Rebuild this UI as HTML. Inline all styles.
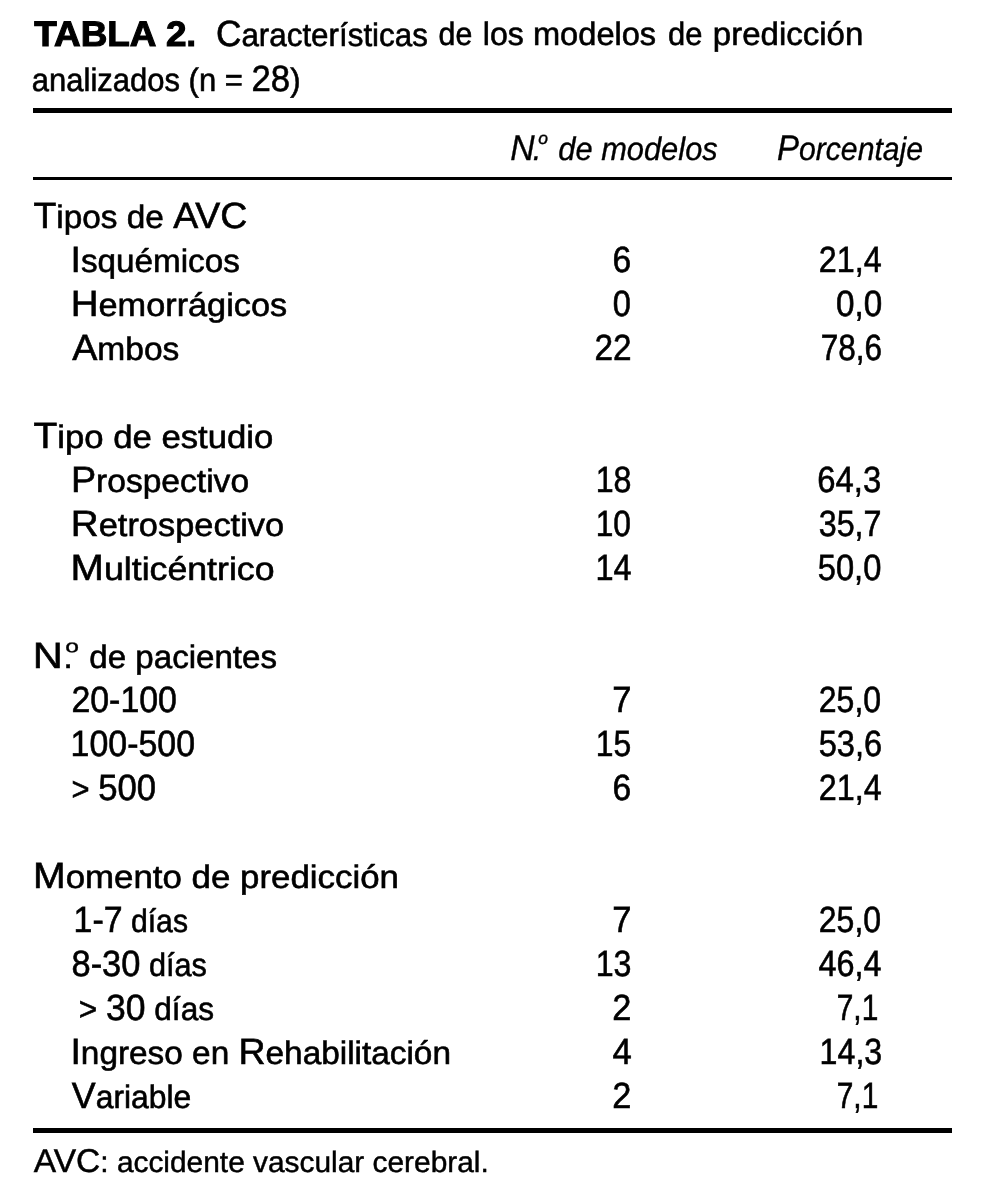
<!DOCTYPE html>
<html lang="es">
<head>
<meta charset="utf-8">
<title>Tabla 2</title>
<style>
html,body{margin:0;padding:0;background:#fff;}
body{width:984px;height:1197px;position:relative;overflow:hidden;
 font-family:"Liberation Sans",sans-serif;color:#000;text-rendering:geometricPrecision;}
.t{position:absolute;left:0;white-space:pre;line-height:44px;height:44px;transform-origin:0 0;margin:0;
 font-size:32.5px;-webkit-text-stroke:0.6px #000;}
.t .c{font-size:36.5px;}
.t .n{display:inline-block;transform:scaleX(1.12);transform-origin:0 100%;margin-right:0.07em;}
.t .p{margin-left:0.04em;}
.t .o{display:inline-block;font-size:0.95em;margin-left:-0.2em;margin-right:0.07em;position:relative;top:-0.2em;transform:scale(1.1,0.86);-webkit-text-stroke-width:0.3px;}
.i .n{transform:none;margin-right:0;}
.i .p{margin-left:-0.06em;}
.i .o{margin-left:-0.17em;margin-right:0.09em;transform:scale(0.85,0.8);}
.f{font-size:29.25px;-webkit-text-stroke-width:0.45px;}
.f .c{font-size:32.85px;}
.b{font-weight:bold;-webkit-text-stroke:1.1px #000;}
.b .c{font-size:35.4px;}
.i .c{font-size:35.6px;}
.i{font-style:italic;-webkit-text-stroke-width:0.35px;}
.ln{position:absolute;left:0;top:0;width:0;height:0;font-size:1px;line-height:0;}
.rule{position:absolute;background:#000;}
</style>
</head>
<body>
<div class="rule" style="left:33px;top:108px;width:919px;height:5px"></div>
<div class="rule" style="left:33px;top:177px;width:919px;height:3px"></div>
<div class="rule" style="left:33px;top:1128px;width:919px;height:5px"></div>
<div class="t b" style="top:12px;transform:translate(34.24px,0) scaleX(1.0421)"><span class="c">TABLA</span> <span class="c">2</span>.</div>
<div class="ln"><span class="t" style="top:12px;transform:translate(215.95px,0) scaleX(0.9649)"><span class="c">C</span>aracterísticas</span> <span class="t" style="top:12px;transform:translate(438.61px,0) scaleX(0.9310)">de</span> <span class="t" style="top:12px;transform:translate(482.78px,0) scaleX(0.9874)">los</span> <span class="t" style="top:12px;transform:translate(532.97px,0) scaleX(1.0029)">modelos</span> <span class="t" style="top:12px;transform:translate(668.00px,0) scaleX(0.9504)">de</span> <span class="t" style="top:12px;transform:translate(712.80px,0) scaleX(1.0158)">predicción</span></div>
<div class="t" style="top:57px;transform:translate(31.82px,0) scaleX(0.9536)">analizados (n = <span class="c">28</span>)</div>
<div class="t i" style="top:126px;transform:translate(510.21px,0) scaleX(0.9489)"><span class="c n">N</span><span class="p">.</span><span class="o">º</span> de modelos</div>
<div class="t i" style="top:126px;transform:translate(776.89px,0) scaleX(0.9286)"><span class="c">P</span>orcentaje</div>
<div class="t" style="top:194px;transform:translate(33.48px,0) scaleX(1.0259)"><span class="c">T</span>ipos de <span class="c">AVC</span></div>
<div class="t" style="top:238px;transform:translate(70.48px,0) scaleX(1.0236)"><span class="c">I</span>squémicos</div>
<div class="t" style="top:282px;transform:translate(70.71px,0) scaleX(1.0550)"><span class="c">H</span>emorrágicos</div>
<div class="t" style="top:326px;transform:translate(72.16px,0) scaleX(1.0318)"><span class="c">A</span>mbos</div>
<div class="t" style="top:238px;transform:translate(612.60px,0) scaleX(0.9224)"><span class="c">6</span></div>
<div class="t" style="top:282px;transform:translate(612.78px,0) scaleX(0.8923)"><span class="c">0</span></div>
<div class="t" style="top:326px;transform:translate(594.45px,0) scaleX(0.9140)"><span class="c">22</span></div>
<div class="t" style="top:238px;transform:translate(818.71px,0) scaleX(0.8861)"><span class="c">21,4</span></div>
<div class="t" style="top:282px;transform:translate(836.06px,0) scaleX(0.9100)"><span class="c">0,0</span></div>
<div class="t" style="top:326px;transform:translate(820.67px,0) scaleX(0.8646)"><span class="c">78,6</span></div>
<div class="t" style="top:414px;transform:translate(33.40px,0) scaleX(1.0681)"><span class="c">T</span>ipo de estudio</div>
<div class="t" style="top:458px;transform:translate(70.89px,0) scaleX(1.0331)"><span class="c">P</span>rospectivo</div>
<div class="t" style="top:502px;transform:translate(70.87px,0) scaleX(1.0578)"><span class="c">R</span>etrospectivo</div>
<div class="t" style="top:546px;transform:translate(70.58px,0) scaleX(1.0979)"><span class="c">M</span>ulticéntrico</div>
<div class="t" style="top:458px;transform:translate(595.67px,0) scaleX(0.8814)"><span class="c">18</span></div>
<div class="t" style="top:502px;transform:translate(595.64px,0) scaleX(0.8693)"><span class="c">10</span></div>
<div class="t" style="top:546px;transform:translate(595.54px,0) scaleX(0.8903)"><span class="c">14</span></div>
<div class="t" style="top:458px;transform:translate(817.28px,0) scaleX(0.8990)"><span class="c">64,3</span></div>
<div class="t" style="top:502px;transform:translate(818.71px,0) scaleX(0.8840)"><span class="c">35,7</span></div>
<div class="t" style="top:546px;transform:translate(817.74px,0) scaleX(0.8947)"><span class="c">50,0</span></div>
<div class="t" style="top:634px;transform:translate(32.78px,0) scaleX(1.0184)"><span class="c n">N</span><span class="p">.</span><span class="o">º</span> de pacientes</div>
<div class="t" style="top:678px;transform:translate(71.42px,0) scaleX(0.9286)"><span class="c">20-100</span></div>
<div class="t" style="top:722px;transform:translate(70.60px,0) scaleX(0.9285)"><span class="c">100-500</span></div>
<div class="t" style="top:766px;transform:translate(71.55px,0) scaleX(0.9504)">&gt; <span class="c">500</span></div>
<div class="t" style="top:678px;transform:translate(612.33px,0) scaleX(0.9466)"><span class="c">7</span></div>
<div class="t" style="top:722px;transform:translate(595.72px,0) scaleX(0.8728)"><span class="c">15</span></div>
<div class="t" style="top:766px;transform:translate(612.60px,0) scaleX(0.9224)"><span class="c">6</span></div>
<div class="t" style="top:678px;transform:translate(818.78px,0) scaleX(0.8768)"><span class="c">25,0</span></div>
<div class="t" style="top:722px;transform:translate(818.67px,0) scaleX(0.8934)"><span class="c">53,6</span></div>
<div class="t" style="top:766px;transform:translate(818.71px,0) scaleX(0.8861)"><span class="c">21,4</span></div>
<div class="t" style="top:854px;transform:translate(33.04px,0) scaleX(1.0725)"><span class="c">M</span>omento de predicción</div>
<div class="t" style="top:898px;transform:translate(73.62px,0) scaleX(0.9280)"><span class="c">1-7</span> días</div>
<div class="t" style="top:942px;transform:translate(71.48px,0) scaleX(0.9432)"><span class="c">8-30</span> días</div>
<div class="t" style="top:986px;transform:translate(78.77px,0) scaleX(0.9724)">&gt; <span class="c">30</span> días</div>
<div class="t" style="top:1030px;transform:translate(70.42px,0) scaleX(1.0263)"><span class="c">I</span>ngreso en <span class="c">R</span>ehabilitación</div>
<div class="t" style="top:1074px;transform:translate(71.83px,0) scaleX(0.9802)"><span class="c">V</span>ariable</div>
<div class="t" style="top:898px;transform:translate(612.33px,0) scaleX(0.9466)"><span class="c">7</span></div>
<div class="t" style="top:942px;transform:translate(595.66px,0) scaleX(0.8819)"><span class="c">13</span></div>
<div class="t" style="top:986px;transform:translate(612.37px,0) scaleX(0.9417)"><span class="c">2</span></div>
<div class="t" style="top:1030px;transform:translate(612.51px,0) scaleX(0.9503)"><span class="c">4</span></div>
<div class="t" style="top:1074px;transform:translate(612.37px,0) scaleX(0.9417)"><span class="c">2</span></div>
<div class="t" style="top:898px;transform:translate(818.78px,0) scaleX(0.8768)"><span class="c">25,0</span></div>
<div class="t" style="top:942px;transform:translate(818.52px,0) scaleX(0.8877)"><span class="c">46,4</span></div>
<div class="t" style="top:986px;transform:translate(836.76px,0) scaleX(0.8179)"><span class="c">7,1</span></div>
<div class="t" style="top:1030px;transform:translate(819.62px,0) scaleX(0.8809)"><span class="c">14,3</span></div>
<div class="t" style="top:1074px;transform:translate(836.76px,0) scaleX(0.8179)"><span class="c">7,1</span></div>
<div class="t f" style="top:1139px;transform:translate(33.86px,0) scaleX(1.0211)"><span class="c">AVC</span>: accidente vascular cerebral.</div>
</body>
</html>
